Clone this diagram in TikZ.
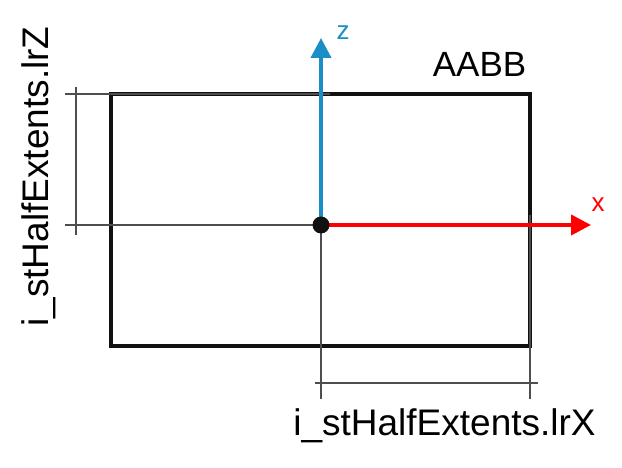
\documentclass[tikz,border=0pt]{standalone}
\usepackage{fontspec}
\setmainfont{Liberation Sans}
\usetikzlibrary{arrows.meta}
\definecolor{dimgray}{HTML}{4D4D52}
\definecolor{zblue}{HTML}{1B8DC7}
\definecolor{xred}{HTML}{FF0000}
\definecolor{boxblack}{HTML}{111111}
\tikzset{
  boxline/.style={draw=boxblack, line width=3.5pt},
  dimline/.style={draw=dimgray, line width=1.8pt},
  axisline/.style={line width=4pt, -{Triangle[length=20pt,width=20pt]}},
  bigtext/.style={font=\fontsize{37}{40}\selectfont, inner sep=0pt},
  axlabel/.style={font=\fontsize{26}{28}\selectfont, inner sep=0pt},
}
\begin{document}
\begin{tikzpicture}[x=1pt,y=-1pt]
\useasboundingbox[fill=white] (0,0) rectangle (622,468);
% coordinates
\coordinate (o) at (321,225);
\coordinate (tl) at (111,94);
\coordinate (br) at (530,346);
\coordinate (ztip) at (321,38);
\coordinate (xtip) at (591,225);
% box
\draw[boxline] (tl) rectangle (br);
% dimension lines (left)
\coordinate (l1a) at (65,94);   \coordinate (l1b) at (330,94);
\coordinate (l2a) at (65,225);
\coordinate (lva) at (76,87);   \coordinate (lvb) at (76,235);
\draw[dimline] (l1a) -- (l1b);
\draw[dimline] (l2a) -- (o);
\draw[dimline] (lva) -- (lvb);
% dimension lines (bottom)
\coordinate (b1a) at (321,215); \coordinate (b1b) at (321,399);
\coordinate (b2a) at (530,215); \coordinate (b2b) at (530,399);
\coordinate (bha) at (315,383); \coordinate (bhb) at (538,383);
\draw[dimline] (b1a) -- (b1b);
\draw[dimline] (b2a) -- (b2b);
\draw[dimline] (bha) -- (bhb);
% axes
\draw[axisline, zblue] (o) -- (ztip);
\draw[axisline, xred] (o) -- (xtip);
\fill[boxblack] (o) circle (8.5pt);
% labels
\node[axlabel, text=zblue, anchor=base] (zl) at (343,40) {z};
\node[axlabel, text=xred, anchor=base] (xl) at (598,212) {x};
\node[bigtext, anchor=base, font=\fontsize{35}{38}\selectfont] (aabb) at (479.5,77) {AABB};
\node[bigtext, anchor=base] (lrx) at (444.5,435) {i\_stHalfExtents.lrX};
\node[bigtext, anchor=base, rotate=90] (lrz) at (48,176.5) {i\_stHalfExtents.lrZ};
\end{tikzpicture}
\end{document}
